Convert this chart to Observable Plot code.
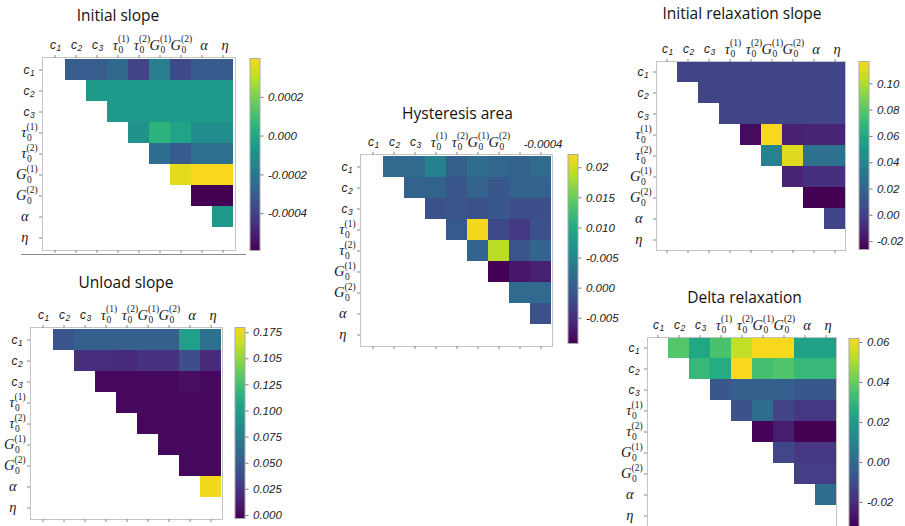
<!DOCTYPE html>
<html><head><meta charset="utf-8">
<script src="https://cdn.jsdelivr.net/npm/d3@7"></script>
<script src="https://cdn.jsdelivr.net/npm/@observablehq/plot@0.6"></script>
<style>
body{margin:0;background:#fff;}
#root{position:relative;width:905px;height:526px;overflow:hidden;background:#fff;}
.ttl{position:absolute;width:300px;text-align:center;font-family:"Open Sans",sans-serif;font-size:15.5px;line-height:1;color:#111;white-space:nowrap;}
.note{position:absolute;width:60px;text-align:center;font-family:"Liberation Sans",Arial,sans-serif;font-style:italic;font-size:11.5px;line-height:1;color:#222;}
.sep{position:absolute;height:0;border-top:1.5px solid #8a8a8a;}
</style></head><body><div id="root"></div>
<script>
// ---- parameter labels ----
const paramKeys = ["c1","c2","c3","tau1","tau2","G1","G2","alpha","eta"];
const paramBase = ["c","c","c","τ","τ","G","G","α","η"];
const paramSub  = ["1","2","3","0","0","0","0","",""];
const paramSup  = ["","","","(1)","(2)","(1)","(2)","",""];

// ---- data: upper-triangular rows (row i, columns i+1..8) ----
const initialSlopeRows = [
  [-0.00030, -0.00030, -0.00026, -0.00039, -0.00017, -0.00037, -0.00031, -0.00031],
  [-0.000055, -0.000055, -0.000055, -0.000055, -0.000055, -0.000055, -0.000055],
  [-0.000055, -0.000055, -0.000055, -0.000055, -0.000055, -0.000055],
  [-0.000095, 0.000045, -0.000015, -0.000105, -0.000105],
  [-0.000235, -0.00031, -0.000225, -0.000225],
  [0.00037, 0.00040, 0.00040],
  [-0.00059, -0.00059],
  [-0.000055]
];
const initialSlopeDomain = [-0.00059, 0.00040];
const initialSlopeTicks = [0.0002, 0, -0.0002, -0.0004];
const initialSlopeTickLabels = ["0.0002", "0.000", "-0.0002", "-0.0004"];

const unloadSlopeRows = [
  [0.045, 0.052, 0.052, 0.052, 0.052, 0.052, 0.100, 0.065],
  [0.021, 0.021, 0.019, 0.023, 0.023, 0.041, 0.019],
  [0.001, 0.001, 0.001, 0.001, 0.004, 0.001],
  [0.001, 0.001, 0.001, 0.001, 0.001],
  [0.001, 0.001, 0.001, 0.001],
  [0.001, 0.001, 0.001],
  [0.001, 0.001],
  [0.178]
];
const unloadSlopeDomain = [-0.003, 0.180];
const unloadSlopeTicks = [0.175, 0.15, 0.125, 0.1, 0.075, 0.05, 0.025, 0];
const unloadSlopeTickLabels = ["0.175", "0.105", "0.125", "0.100", "0.075", "0.050", "0.025", "0.000"];

const hysteresisRows = [
  [0.0015, 0.0015, 0.0043, 0.0002, 0.0018, 0.0012, 0.0005, 0.0018],
  [0.0005, 0.0005, -0.0010, 0.0005, -0.0007, 0.0005, 0.0005],
  [-0.0014, -0.0010, -0.0014, -0.0007, -0.0017, -0.0017],
  [-0.0004, 0.0220, -0.0023, -0.0039, -0.0014],
  [0.0008, 0.0190, -0.0010, 0.0008],
  [-0.0092, -0.0073, -0.0064],
  [0.0015, 0.0015],
  [-0.0014]
];
const hysteresisDomain = [-0.0092, 0.0222];
const hysteresisTicks = [0.02, 0.015, 0.01, 0.005, 0, -0.005];
const hysteresisTickLabels = ["0.02", "0.015", "0.010", "-0.005", "0.000", "-0.005"];

const relaxSlopeRows = [
  [0.003, 0.003, 0.003, 0.003, 0.003, 0.003, 0.003, 0.003],
  [0.003, 0.003, 0.003, 0.003, 0.003, 0.003, 0.003],
  [0.003, 0.003, 0.003, 0.003, 0.003, 0.003],
  [-0.022, 0.117, -0.013, -0.012, -0.012],
  [0.037, 0.111, 0.027, 0.027],
  [-0.012, -0.006, -0.006],
  [-0.026, -0.026],
  [0.003]
];
const relaxSlopeDomain = [-0.026, 0.117];
const relaxSlopeTicks = [0.10, 0.08, 0.06, 0.04, 0.02, 0, -0.02];
const relaxSlopeTickLabels = ["0.10", "0.08", "0.06", "0.04", "0.02", "0.00", "-0.02"];

const deltaRelaxRows = [
  [0.037, 0.024, 0.035, 0.053, 0.062, 0.062, 0.022, 0.022],
  [0.031, 0.026, 0.062, 0.034, 0.036, 0.031, 0.031],
  [-0.0066, -0.0038, -0.0038, -0.0038, -0.0066, -0.0066],
  [-0.0085, 0.0009, -0.0132, -0.017, -0.017],
  [-0.031, -0.025, -0.032, -0.032],
  [-0.0123, -0.017, -0.017],
  [-0.015, -0.015],
  [0.001]
];
const deltaRelaxDomain = [-0.032, 0.062];
const deltaRelaxTicks = [0.06, 0.04, 0.02, 0, -0.02];
const deltaRelaxTickLabels = ["0.06", "0.04", "0.02", "0.00", "-0.02"];

// ---- layout ----
const panels = [
  {title: "Initial slope", rows: initialSlopeRows, domain: initialSlopeDomain, ticks: initialSlopeTicks, tickLabels: initialSlopeTickLabels,
   fx: 42, fy: 57, size: 193, cbx: 249, cby: 58, cbh: 192, tcx: 118, tbase: 21.7},
  {title: "Unload slope", rows: unloadSlopeRows, domain: unloadSlopeDomain, ticks: unloadSlopeTicks, tickLabels: unloadSlopeTickLabels,
   fx: 30, fy: 327, size: 192, cbx: 234, cby: 327, cbh: 191, tcx: 126, tbase: 288.3},
  {title: "Hysteresis area", rows: hysteresisRows, domain: hysteresisDomain, ticks: hysteresisTicks, tickLabels: hysteresisTickLabels,
   fx: 360, fy: 154, size: 192, cbx: 567, cby: 154, cbh: 189, tcx: 457.5, tbase: 120, hideX: ["alpha", "eta"]},
  {title: "Initial relaxation slope", rows: relaxSlopeRows, domain: relaxSlopeDomain, ticks: relaxSlopeTicks, tickLabels: relaxSlopeTickLabels,
   fx: 656, fy: 61, size: 189, cbx: 858, cby: 61, cbh: 188, tcx: 742, tbase: 20},
  {title: "Delta relaxation", rows: deltaRelaxRows, domain: deltaRelaxDomain, ticks: deltaRelaxTicks, tickLabels: deltaRelaxTickLabels,
   fx: 647, fy: 337, size: 189, cbx: 848, cby: 338, cbh: 188, tcx: 744.5, tbase: 303.3}
];

const SERIF = "Liberation Serif, DejaVu Serif, serif";
const SANS = "Liberation Sans, Arial, sans-serif";
const root = document.getElementById("root");

// viridis with a slightly warmer yellow end, as in the source figure
const topYellow = d3.interpolateRgb(d3.interpolateViridis(0.9), "#f8d81c");
const cmap = t => t > 0.9 ? topYellow((t - 0.9) / 0.1) : d3.interpolateViridis(t);

function place(el, left, top) {
  el.style.position = "absolute";
  el.style.left = left + "px";
  el.style.top = top + "px";
  root.appendChild(el);
}

function cellsFrom(rows) {
  return rows.flatMap((r, i) => r.map((v, k) => ({row: paramKeys[i], col: paramKeys[i + 1 + k], v})));
}

const labelItems = paramKeys.map((k, i) => ({k, base: paramBase[i], sub: paramSub[i], sup: paramSup[i]}));
const isC = d => d.base === "c";
const hasSup = d => d.sup !== "";
const plain = d => !isC(d) && !hasSup(d);

function xLabelMarks(items) {
  const common = {x: "k", frameAnchor: "top", fill: "#1a1a1a", lineAnchor: "bottom"};
  return [
    Plot.text(items.filter(isC), {...common, text: "base", fontStyle: "italic", textAnchor: "end", dy: -9, dx: 1, fontFamily: SANS, fontSize: 12}),
    Plot.text(items.filter(isC), {...common, text: "sub", fontStyle: "italic", textAnchor: "start", dy: -6.5, dx: 1.5, fontFamily: SANS, fontSize: 8.5}),
    Plot.text(items.filter(hasSup), {...common, text: "base", fontStyle: "italic", textAnchor: "end", dy: -8, dx: 0, fontFamily: SERIF, fontSize: 14.5}),
    Plot.text(items.filter(hasSup), {...common, text: "sub", textAnchor: "start", dy: -5, dx: 0.5, fontFamily: SERIF, fontSize: 9.5}),
    Plot.text(items.filter(hasSup), {...common, text: "sup", textAnchor: "start", dy: -16, dx: 0, fontFamily: SERIF, fontSize: 9.5}),
    Plot.text(items.filter(plain), {...common, text: "base", fontStyle: "italic", textAnchor: "middle", dy: -8, dx: 2, fontFamily: SERIF, fontSize: 14.5})
  ];
}

function yLabelMarks(items) {
  const common = {y: "k", frameAnchor: "left", fill: "#1a1a1a", lineAnchor: "bottom"};
  return [
    Plot.text(items.filter(isC), {...common, text: "base", fontStyle: "italic", textAnchor: "end", dx: -13, dy: 3.5, fontFamily: SANS, fontSize: 12}),
    Plot.text(items.filter(isC), {...common, text: "sub", fontStyle: "italic", textAnchor: "start", dx: -12.5, dy: 6, fontFamily: SANS, fontSize: 8.5}),
    Plot.text(items.filter(hasSup), {...common, text: "base", fontStyle: "italic", textAnchor: "end", dx: -16, dy: 4, fontFamily: SERIF, fontSize: 14.5}),
    Plot.text(items.filter(hasSup), {...common, text: "sub", textAnchor: "start", dx: -15.5, dy: 8, fontFamily: SERIF, fontSize: 9.5}),
    Plot.text(items.filter(hasSup), {...common, text: "sup", textAnchor: "start", dx: -16, dy: -3, fontFamily: SERIF, fontSize: 9.5}),
    Plot.text(items.filter(plain), {...common, text: "base", fontStyle: "italic", textAnchor: "end", dx: -14, dy: 4, fontFamily: SERIF, fontSize: 14.5})
  ];
}

function heatmap(p) {
  const ml = 46, mt = 38, mr = 6, mb = 8;
  const xItems = labelItems.filter(d => !(p.hideX || []).includes(d.k));
  const svg = Plot.plot({
    width: ml + p.size + mr, height: mt + p.size + mb,
    marginLeft: ml, marginTop: mt, marginRight: mr, marginBottom: mb,
    style: {background: "transparent", overflow: "visible"},
    x: {type: "band", domain: paramKeys, padding: 0, label: null},
    y: {type: "band", domain: paramKeys, padding: 0, label: null},
    color: {type: "linear", interpolate: cmap, domain: p.domain},
    marks: [
      Plot.cell(cellsFrom(p.rows), {x: "col", y: "row", fill: "v", inset: 0, shapeRendering: "crispEdges"}),
      Plot.frame({stroke: "#c4c4c4"}),
      Plot.axisX({anchor: "top", tickSize: 3, tickFormat: () => "", label: null, stroke: "#888"}),
      Plot.axisX({anchor: "bottom", tickSize: 3, tickFormat: () => "", label: null, stroke: "#888"}),
      Plot.axisY({anchor: "left", tickSize: 3, tickFormat: () => "", label: null, stroke: "#888"}),
      ...xLabelMarks(xItems),
      ...yLabelMarks(labelItems)
    ]
  });
  place(svg, p.fx - ml, p.fy - mt);
}

function colorbar(p) {
  const ml = 0.5, mr = 50, mt = 6, mb = 6, w = 10;
  const [lo, hi] = p.domain;
  const n = 160;
  const strips = d3.range(n).map(i => ({y1: lo + (hi - lo) * i / n, y2: lo + (hi - lo) * (i + 1) / n, v: lo + (hi - lo) * (i + 0.5) / n}));
  const lab = new Map(p.ticks.map((t, i) => [t, p.tickLabels[i]]));
  const svg = Plot.plot({
    width: ml + w + mr, height: mt + p.cbh + mb,
    marginLeft: ml, marginRight: mr, marginTop: mt, marginBottom: mb,
    style: {background: "transparent", overflow: "visible", fontFamily: SANS, fontStyle: "italic", fontSize: "11.5px"},
    x: {domain: [0, 1], axis: null},
    y: {domain: [lo, hi], label: null},
    color: {type: "linear", interpolate: cmap, domain: [lo, hi]},
    marks: [
      Plot.rect(strips, {x1: 0, x2: 1, y1: "y1", y2: "y2", fill: "v", shapeRendering: "crispEdges"}),
      Plot.frame({stroke: "#aaa"}),
      Plot.axisY({anchor: "right", ticks: p.ticks, tickSize: 3, tickPadding: 5, tickFormat: d => lab.get(d), label: null, stroke: "#777", fill: "#222", fontSize: 11.5})
    ]
  });
  place(svg, p.cbx - ml, p.cby - mt);
}

function title(p) {
  const d = document.createElement("div");
  d.className = "ttl";
  d.textContent = p.title;
  d.style.left = (p.tcx - 150) + "px";
  d.style.top = (p.tbase - 13.8) + "px";
  root.appendChild(d);
}

for (const p of panels) {
  heatmap(p);
  colorbar(p);
  title(p);
}

// separator line under the first panel
const sep = document.createElement("div");
sep.className = "sep";
sep.style.left = "21px"; sep.style.top = "254px"; sep.style.width = "225px";
root.appendChild(sep);

// stray label over the hysteresis axis, as in the source figure
const note = document.createElement("div");
note.className = "note";
note.textContent = "-0.0004";
note.style.left = "513px"; note.style.top = "139.3px";
root.appendChild(note);
</script>
</body></html>
